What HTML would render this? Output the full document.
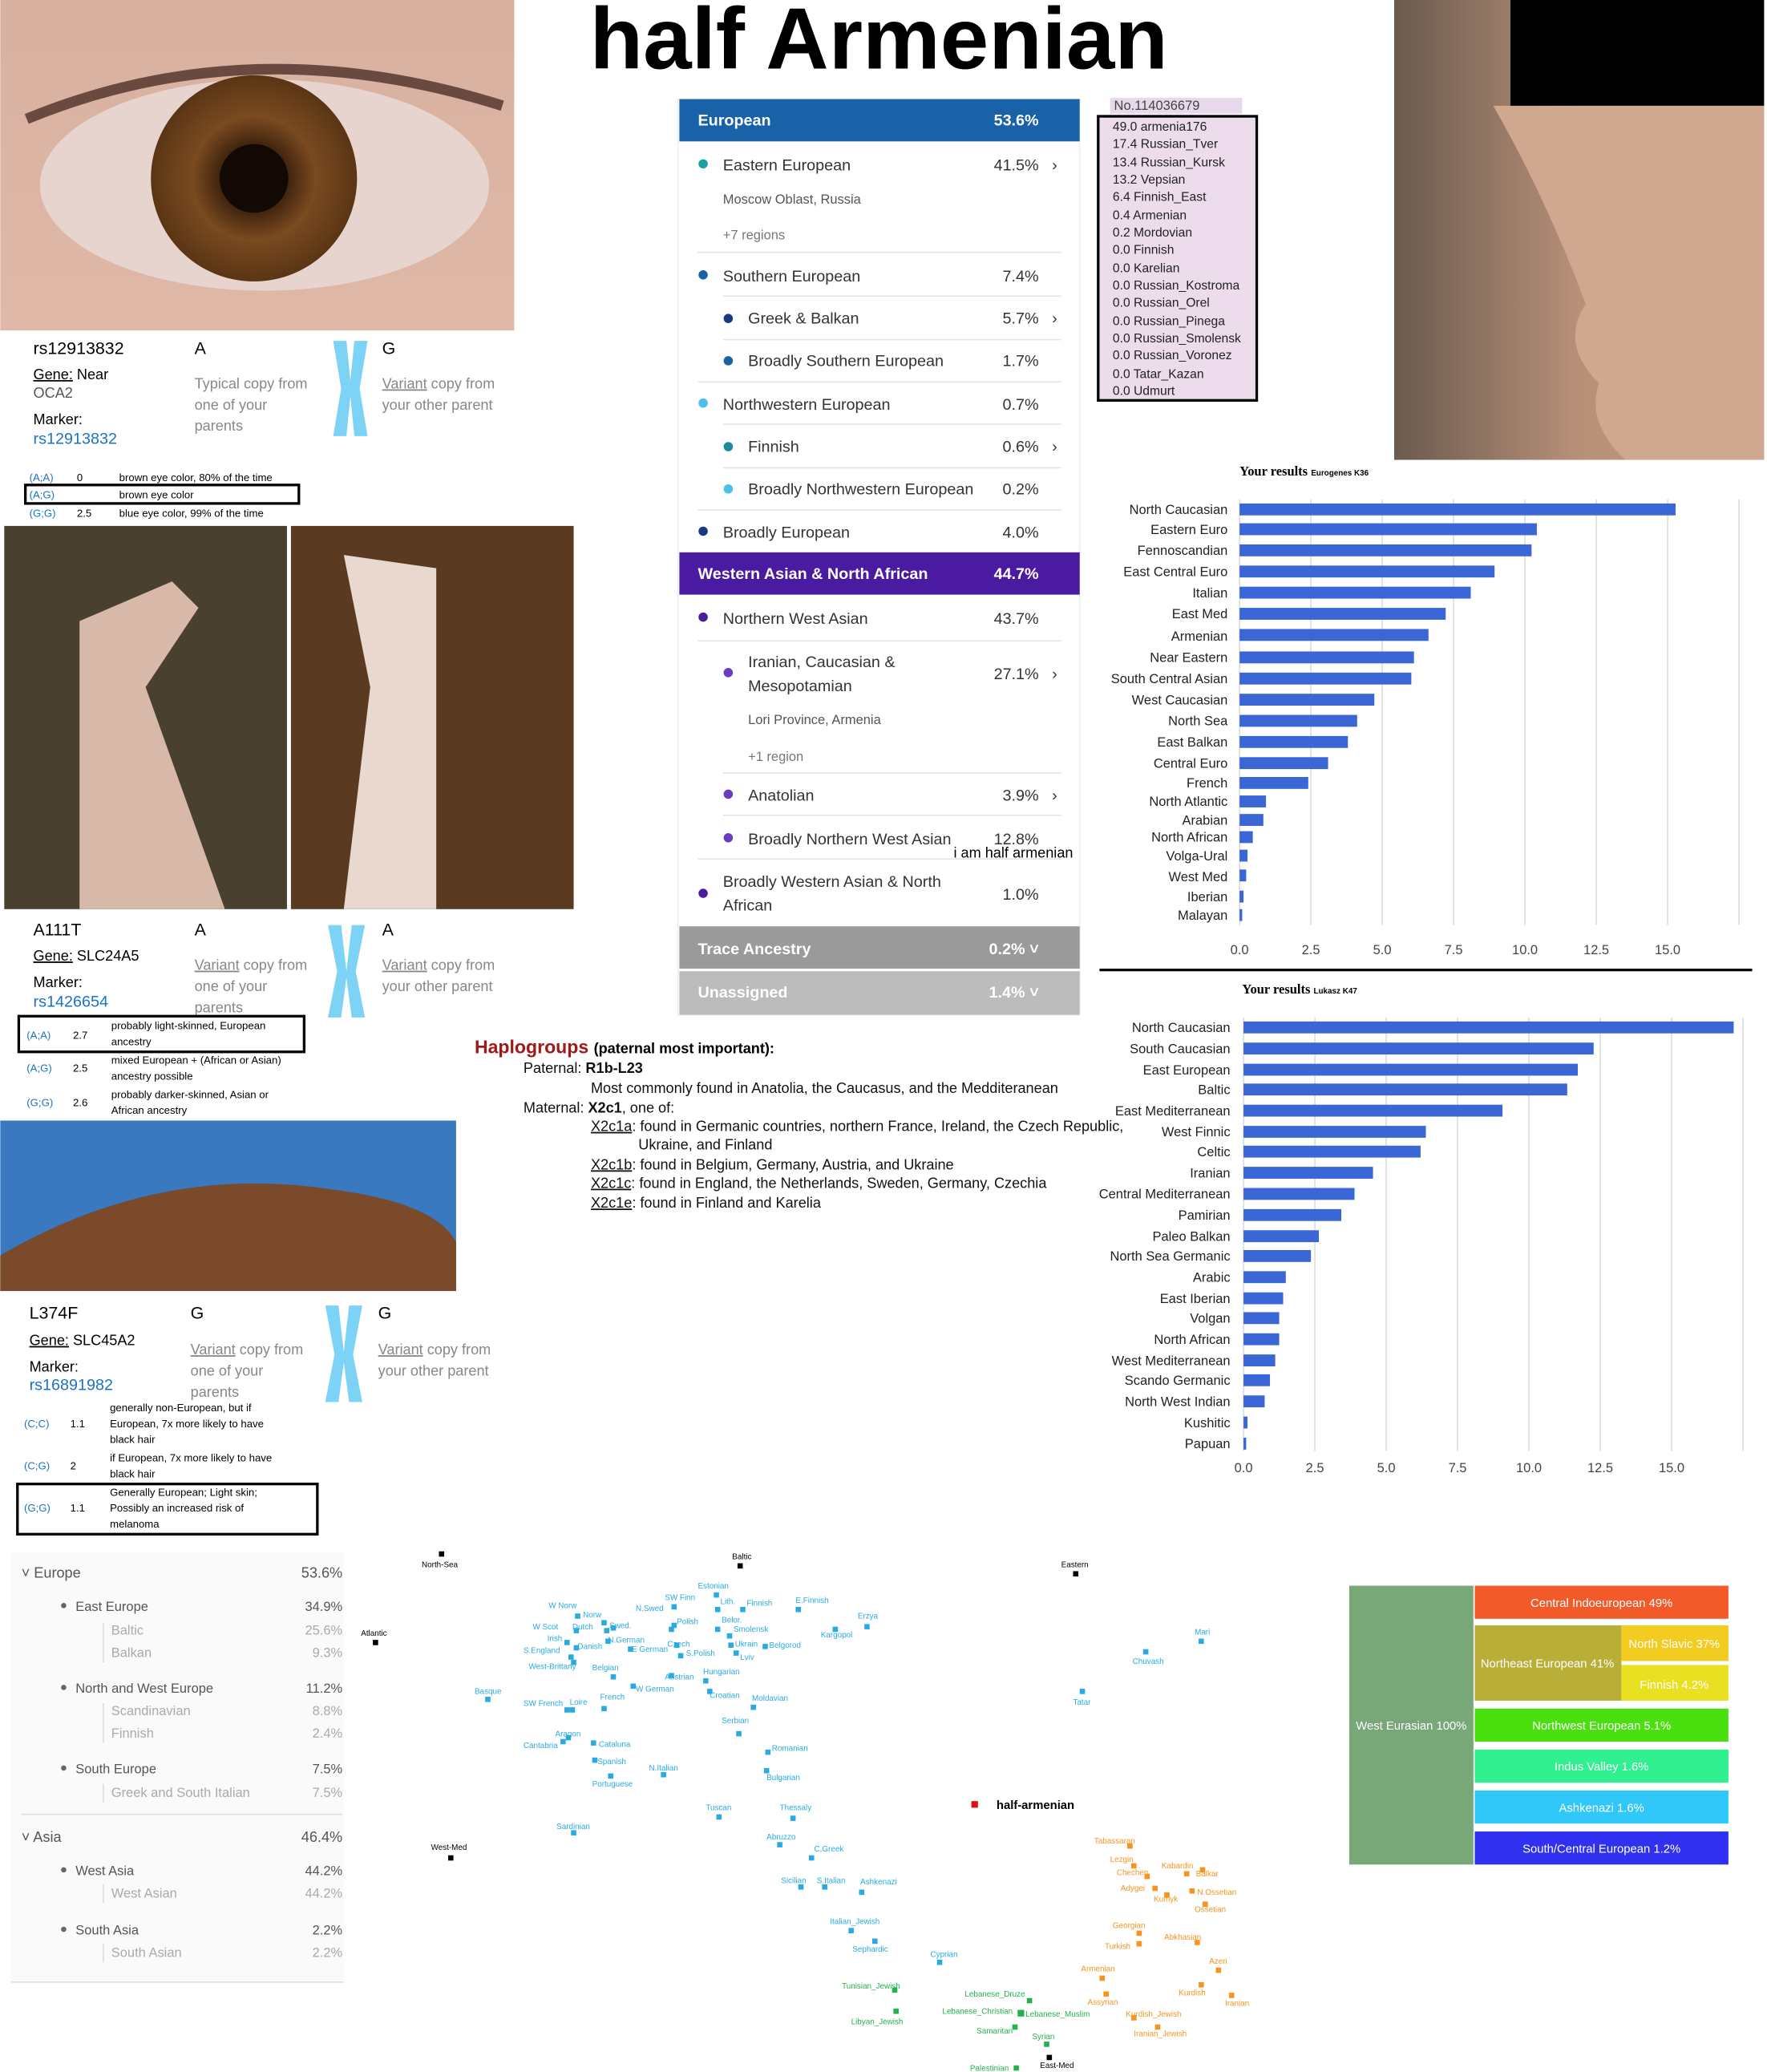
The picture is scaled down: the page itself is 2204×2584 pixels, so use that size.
<!DOCTYPE html>
<html><head><meta charset="utf-8"><style>
html,body{margin:0;padding:0;background:#fff}
svg{display:block}
text{font-family:"Liberation Sans",sans-serif}
.s{font-family:"Liberation Serif",serif}
</style></head><body>
<svg width="2204" height="2584" viewBox="0 0 1337 1568" xmlns="http://www.w3.org/2000/svg">
<rect width="1337" height="1568" fill="#fff"/>
<defs>
<radialGradient id="iris" cx="50%" cy="50%" r="50%"><stop offset="0" stop-color="#2a1608"/><stop offset="0.3" stop-color="#3a200c"/><stop offset="0.6" stop-color="#7a4a20"/><stop offset="1" stop-color="#5a3515"/></radialGradient>
<linearGradient id="skin" x1="0" y1="0" x2="0" y2="1"><stop offset="0" stop-color="#d8b0a0"/><stop offset="1" stop-color="#e0b8a8"/></linearGradient>
<linearGradient id="nose" x1="0" y1="0" x2="1" y2="0"><stop offset="0" stop-color="#6a5a4e"/><stop offset="0.5" stop-color="#b89078"/><stop offset="1" stop-color="#c8a088"/></linearGradient>
</defs>
<rect x="0" y="0" width="389" height="250" fill="url(#skin)"/>
<ellipse cx="200" cy="140" rx="170" ry="80" fill="#e8d4ce"/>
<circle cx="192" cy="135" r="78" fill="url(#iris)"/>
<circle cx="192" cy="135" r="26" fill="#120804"/>
<path d="M20 90 Q190 20 380 80" stroke="#6a4a40" stroke-width="8" fill="none"/>
<text x="25" y="268" font-size="13">rs12913832</text>
<text x="147" y="268" font-size="13">A</text>
<text x="289" y="268" font-size="13">G</text>
<text x="25" y="287" font-size="11"><tspan text-decoration="underline">Gene:</tspan> Near</text>
<text x="25" y="301" font-size="11" fill="#555">OCA2</text>
<text x="25" y="321" font-size="11">Marker:</text>
<text x="25" y="336" font-size="12" fill="#1a73c8">rs12913832</text>
<text x="147" y="294" font-size="11" fill="#888">Typical copy from</text>
<text x="147" y="310" font-size="11" fill="#888">one of your</text>
<text x="147" y="326" font-size="11" fill="#888">parents</text>
<text x="289" y="294" font-size="11" fill="#888"><tspan text-decoration="underline">Variant</tspan> copy from</text>
<text x="289" y="310" font-size="11" fill="#888">your other parent</text>
<path d="M252 258 h10 l3 30 l3 -30 h10 l-6 36 l6 36 h-10 l-3 -30 l-3 30 h-10 l6 -36z" fill="#7dd3f5"/>
<g font-size="8">
<text x="22" y="364" fill="#1a73c8">(A;A)</text><text x="58" y="364">0</text><text x="90" y="364">brown eye color, 80% of the time</text>
<rect x="19" y="367" width="207" height="14" fill="none" stroke="#000" stroke-width="2"/>
<text x="22" y="377" fill="#1a73c8">(A;G)</text><text x="90" y="377">brown eye color</text>
<text x="22" y="391" fill="#1a73c8">(G;G)</text><text x="58" y="391">2.5</text><text x="90" y="391">blue eye color, 99% of the time</text>
</g>
<rect x="3" y="398" width="214" height="290" fill="#4a4030"/>
<path d="M60 470 L130 440 L150 460 L110 520 L170 688 L60 688 Z" fill="#d8b8a8"/>
<rect x="220" y="398" width="214" height="290" fill="#5a3a20"/>
<path d="M260 420 L330 430 L330 520 L330 688 L260 688 L280 520 Z" fill="#e8d8d0"/>
<text x="25" y="708" font-size="13">A111T</text>
<text x="147" y="708" font-size="13">A</text>
<text x="289" y="708" font-size="13">A</text>
<text x="25" y="727" font-size="11"><tspan text-decoration="underline">Gene:</tspan> SLC24A5</text>
<text x="25" y="747" font-size="11">Marker:</text>
<text x="25" y="762" font-size="12" fill="#1a73c8">rs1426654</text>
<text x="147" y="734" font-size="11" fill="#888"><tspan text-decoration="underline">Variant</tspan> copy from</text>
<text x="147" y="750" font-size="11" fill="#888">one of your</text>
<text x="147" y="766" font-size="11" fill="#888">parents</text>
<text x="289" y="734" font-size="11" fill="#888"><tspan text-decoration="underline">Variant</tspan> copy from</text>
<text x="289" y="750" font-size="11" fill="#888">your other parent</text>
<path d="M248 700 h10 l4 35 l4 -35 h10 l-7 35 l7 35 h-10 l-4 -30 l-4 30 h-10 l7 -35z" fill="#7dd3f5"/>
<g font-size="8">
<rect x="14" y="769" width="216" height="27" fill="none" stroke="#000" stroke-width="2"/>
<text x="20" y="786" fill="#1a73c8">(A;A)</text><text x="55" y="786">2.7</text><text x="84" y="779">probably light-skinned, European</text><text x="84" y="791">ancestry</text>
<text x="20" y="811" fill="#1a73c8">(A;G)</text><text x="55" y="811">2.5</text><text x="84" y="805">mixed European + (African or Asian)</text><text x="84" y="817">ancestry possible</text>
<text x="20" y="837" fill="#1a73c8">(G;G)</text><text x="55" y="837">2.6</text><text x="84" y="831">probably darker-skinned, Asian or</text><text x="84" y="843">African ancestry</text>
</g>
<rect x="0" y="848" width="345" height="129" fill="#3a78c0"/>
<path d="M0 950 Q120 880 250 900 Q330 910 345 940 L345 977 L0 977 Z" fill="#7a4a2a"/>
<text x="22" y="998" font-size="13">L374F</text>
<text x="144" y="998" font-size="13">G</text>
<text x="286" y="998" font-size="13">G</text>
<text x="22" y="1018" font-size="11"><tspan text-decoration="underline">Gene:</tspan> SLC45A2</text>
<text x="22" y="1038" font-size="11">Marker:</text>
<text x="22" y="1052" font-size="12" fill="#1a73c8">rs16891982</text>
<text x="144" y="1025" font-size="11" fill="#888"><tspan text-decoration="underline">Variant</tspan> copy from</text>
<text x="144" y="1041" font-size="11" fill="#888">one of your</text>
<text x="144" y="1057" font-size="11" fill="#888">parents</text>
<text x="286" y="1025" font-size="11" fill="#888"><tspan text-decoration="underline">Variant</tspan> copy from</text>
<text x="286" y="1041" font-size="11" fill="#888">your other parent</text>
<path d="M246 988 h10 l4 35 l4 -35 h10 l-7 37 l7 36 h-10 l-4 -30 l-4 30 h-10 l7 -36z" fill="#7dd3f5"/>
<g font-size="8">
<text x="18" y="1080" fill="#1a73c8">(C;C)</text><text x="53" y="1080">1.1</text><text x="83" y="1068">generally non-European, but if</text><text x="83" y="1080">European, 7x more likely to have</text><text x="83" y="1092">black hair</text>
<text x="18" y="1112" fill="#1a73c8">(C;G)</text><text x="53" y="1112">2</text><text x="83" y="1106">if European, 7x more likely to have</text><text x="83" y="1118">black hair</text>
<rect x="13" y="1123" width="227" height="38" fill="none" stroke="#000" stroke-width="2"/>
<text x="18" y="1144" fill="#1a73c8">(G;G)</text><text x="53" y="1144">1.1</text><text x="83" y="1132">Generally European; Light skin;</text><text x="83" y="1144">Possibly an increased risk of</text><text x="83" y="1156">melanoma</text>
</g>
<text x="665" y="52" font-size="66" font-weight="bold" text-anchor="middle">half Armenian</text>
<rect x="513" y="75" width="304" height="693" fill="#fff" stroke="#eee"/>
<rect x="514" y="75" width="303" height="32" fill="#1a62a8"/>
<text x="528" y="95" font-size="12" font-weight="bold" fill="#fff">European</text>
<text x="786" y="95" font-size="12" font-weight="bold" fill="#fff" text-anchor="end">53.6%</text>
<g font-size="12" fill="#333">
<circle cx="532" cy="124" r="3.5" fill="#1aa0a0"/><text x="547" y="129">Eastern European</text><text x="786" y="129" text-anchor="end">41.5%</text><text x="796" y="129">›</text>
<text x="547" y="154" font-size="10" fill="#555">Moscow Oblast, Russia</text>
<text x="547" y="181" font-size="10" fill="#777">+7 regions</text>
<circle cx="532" cy="208" r="3.5" fill="#1a62a8"/><text x="547" y="213">Southern European</text><text x="786" y="213" text-anchor="end">7.4%</text>
<circle cx="551" cy="241" r="3.5" fill="#1a3a80"/><text x="566" y="245">Greek &amp; Balkan</text><text x="786" y="245" text-anchor="end">5.7%</text><text x="796" y="245">›</text>
<circle cx="551" cy="273" r="3.5" fill="#1a62a8"/><text x="566" y="277">Broadly Southern European</text><text x="786" y="277" text-anchor="end">1.7%</text>
<circle cx="532" cy="305" r="3.5" fill="#4ac0e8"/><text x="547" y="310">Northwestern European</text><text x="786" y="310" text-anchor="end">0.7%</text>
<circle cx="551" cy="338" r="3.5" fill="#1a8a9a"/><text x="566" y="342">Finnish</text><text x="786" y="342" text-anchor="end">0.6%</text><text x="796" y="342">›</text>
<circle cx="551" cy="370" r="3.5" fill="#4ac0e8"/><text x="566" y="374">Broadly Northwestern European</text><text x="786" y="374" text-anchor="end">0.2%</text>
<circle cx="532" cy="402" r="3.5" fill="#1a3a80"/><text x="547" y="407">Broadly European</text><text x="786" y="407" text-anchor="end">4.0%</text>
</g>
<g stroke="#e4e4e4"><line x1="528" y1="191" x2="803" y2="191"/><line x1="547" y1="224" x2="803" y2="224"/><line x1="547" y1="257" x2="803" y2="257"/><line x1="528" y1="289" x2="803" y2="289"/><line x1="547" y1="321" x2="803" y2="321"/><line x1="547" y1="354" x2="803" y2="354"/><line x1="528" y1="386" x2="803" y2="386"/><line x1="528" y1="485" x2="803" y2="485"/><line x1="547" y1="585" x2="803" y2="585"/><line x1="547" y1="617" x2="803" y2="617"/><line x1="528" y1="650" x2="803" y2="650"/></g>
<rect x="514" y="418" width="303" height="32" fill="#4a1aa0"/>
<text x="528" y="438" font-size="12" font-weight="bold" fill="#fff">Western Asian &amp; North African</text>
<text x="786" y="438" font-size="12" font-weight="bold" fill="#fff" text-anchor="end">44.7%</text>
<g font-size="12" fill="#333">
<circle cx="532" cy="467" r="3.5" fill="#4a1aa0"/><text x="547" y="472">Northern West Asian</text><text x="786" y="472" text-anchor="end">43.7%</text>
<circle cx="551" cy="509" r="3.5" fill="#6a3ac0"/><text x="566" y="505">Iranian, Caucasian &amp;</text><text x="566" y="523">Mesopotamian</text><text x="786" y="514" text-anchor="end">27.1%</text><text x="796" y="514">›</text>
<text x="566" y="548" font-size="10" fill="#555">Lori Province, Armenia</text>
<text x="566" y="576" font-size="10" fill="#777">+1 region</text>
<circle cx="551" cy="601" r="3.5" fill="#6a3ac0"/><text x="566" y="606">Anatolian</text><text x="786" y="606" text-anchor="end">3.9%</text><text x="796" y="606">›</text>
<circle cx="551" cy="634" r="3.5" fill="#6a3ac0"/><text x="566" y="639">Broadly Northern West Asian</text><text x="786" y="639" text-anchor="end">12.8%</text>
<text x="812" y="649" font-size="11" fill="#000" text-anchor="end">i am half armenian</text>
<circle cx="532" cy="676" r="3.5" fill="#4a1aa0"/><text x="547" y="671">Broadly Western Asian &amp; North</text><text x="547" y="689">African</text><text x="786" y="681" text-anchor="end">1.0%</text>
</g>
<rect x="514" y="701" width="303" height="32" fill="#9a9a9a"/>
<text x="528" y="722" font-size="12" font-weight="bold" fill="#fff">Trace Ancestry</text><text x="786" y="722" font-size="12" font-weight="bold" fill="#fff" text-anchor="end">0.2% ˅</text>
<rect x="514" y="735" width="303" height="33" fill="#bcbcbc"/>
<text x="528" y="755" font-size="12" font-weight="bold" fill="#fff">Unassigned</text><text x="786" y="755" font-size="12" font-weight="bold" fill="#fff" text-anchor="end">1.4% ˅</text>
<rect x="840" y="74" width="100" height="12" fill="#e8d8ec"/>
<text x="843" y="83" font-size="10" fill="#444">No.114036679</text>
<rect x="831" y="88" width="120" height="215" fill="#ecdcec" stroke="#000" stroke-width="2"/>
<g font-size="9.5" fill="#222">
<text x="842" y="99">49.0 armenia176</text><text x="842" y="112">17.4 Russian_Tver</text><text x="842" y="126">13.4 Russian_Kursk</text><text x="842" y="139">13.2 Vepsian</text><text x="842" y="152">6.4 Finnish_East</text><text x="842" y="166">0.4 Armenian</text><text x="842" y="179">0.2 Mordovian</text><text x="842" y="192">0.0 Finnish</text><text x="842" y="206">0.0 Karelian</text><text x="842" y="219">0.0 Russian_Kostroma</text><text x="842" y="232">0.0 Russian_Orel</text><text x="842" y="246">0.0 Russian_Pinega</text><text x="842" y="259">0.0 Russian_Smolensk</text><text x="842" y="272">0.0 Russian_Voronez</text><text x="842" y="286">0.0 Tatar_Kazan</text><text x="842" y="299">0.0 Udmurt</text>
</g>
<rect x="1055" y="0" width="280" height="348" fill="url(#nose)"/>
<path d="M1130 80 Q1170 150 1200 230 Q1180 260 1210 290 Q1200 320 1230 348 L1335 348 L1335 80Z" fill="#d0a890"/>
<rect x="1143" y="0" width="192" height="80" fill="#000"/>
<text x="938" y="360" font-size="10" font-weight="bold" class="s">Your results <tspan font-size="6" font-family="Liberation Sans">Eurogenes K36</tspan></text>
<g stroke="#ddd" stroke-width="1"><line x1="938" y1="378" x2="938" y2="700"/><line x1="992" y1="378" x2="992" y2="700"/><line x1="1046" y1="378" x2="1046" y2="700"/><line x1="1100" y1="378" x2="1100" y2="700"/><line x1="1154" y1="378" x2="1154" y2="700"/><line x1="1208" y1="378" x2="1208" y2="700"/><line x1="1262" y1="378" x2="1262" y2="700"/><line x1="1316" y1="378" x2="1316" y2="700"/></g>
<g fill="#3a66d6">
<rect x="938" y="381" width="330" height="9"/><rect x="938" y="396" width="225" height="9"/><rect x="938" y="412" width="221" height="9"/><rect x="938" y="428" width="193" height="9"/><rect x="938" y="444" width="175" height="9"/><rect x="938" y="460" width="156" height="9"/><rect x="938" y="476" width="143" height="9"/><rect x="938" y="493" width="132" height="9"/><rect x="938" y="509" width="130" height="9"/><rect x="938" y="525" width="102" height="9"/><rect x="938" y="541" width="89" height="9"/><rect x="938" y="557" width="82" height="9"/><rect x="938" y="573" width="67" height="9"/><rect x="938" y="588" width="52" height="9"/><rect x="938" y="602" width="20" height="9"/><rect x="938" y="616" width="18" height="9"/><rect x="938" y="629" width="10" height="9"/><rect x="938" y="643" width="6" height="9"/><rect x="938" y="658" width="5" height="9"/><rect x="938" y="674" width="3" height="9"/><rect x="938" y="688" width="2" height="9"/>
</g>
<g font-size="10" class="s" text-anchor="end" fill="#222">
<text x="929" y="389">North Caucasian</text><text x="929" y="404">Eastern Euro</text><text x="929" y="420">Fennoscandian</text><text x="929" y="436">East Central Euro</text><text x="929" y="452">Italian</text><text x="929" y="468">East Med</text><text x="929" y="485">Armenian</text><text x="929" y="501">Near Eastern</text><text x="929" y="517">South Central Asian</text><text x="929" y="533">West Caucasian</text><text x="929" y="549">North Sea</text><text x="929" y="565">East Balkan</text><text x="929" y="581">Central Euro</text><text x="929" y="596">French</text><text x="929" y="610">North Atlantic</text><text x="929" y="624">Arabian</text><text x="929" y="637">North African</text><text x="929" y="651">Volga-Ural</text><text x="929" y="667">West Med</text><text x="929" y="682">Iberian</text><text x="929" y="696">Malayan</text>
</g>
<g font-size="10" class="s" text-anchor="middle" fill="#444"><text x="938" y="722">0.0</text><text x="992" y="722">2.5</text><text x="1046" y="722">5.0</text><text x="1100" y="722">7.5</text><text x="1154" y="722">10.0</text><text x="1208" y="722">12.5</text><text x="1262" y="722">15.0</text></g>
<line x1="832" y1="734" x2="1326" y2="734" stroke="#000" stroke-width="2"/>
<text x="940" y="752" font-size="10" font-weight="bold" class="s">Your results <tspan font-size="6" font-family="Liberation Sans">Lukasz K47</tspan></text>
<g stroke="#ddd"><line x1="941" y1="770" x2="941" y2="1098"/><line x1="995" y1="770" x2="995" y2="1098"/><line x1="1049" y1="770" x2="1049" y2="1098"/><line x1="1103" y1="770" x2="1103" y2="1098"/><line x1="1157" y1="770" x2="1157" y2="1098"/><line x1="1211" y1="770" x2="1211" y2="1098"/><line x1="1265" y1="770" x2="1265" y2="1098"/><line x1="1319" y1="770" x2="1319" y2="1098"/></g>
<g fill="#3a66d6">
<rect x="941" y="773" width="371" height="9"/><rect x="941" y="789" width="265" height="9"/><rect x="941" y="805" width="253" height="9"/><rect x="941" y="820" width="245" height="9"/><rect x="941" y="836" width="196" height="9"/><rect x="941" y="852" width="138" height="9"/><rect x="941" y="867" width="134" height="9"/><rect x="941" y="883" width="98" height="9"/><rect x="941" y="899" width="84" height="9"/><rect x="941" y="915" width="74" height="9"/><rect x="941" y="931" width="57" height="9"/><rect x="941" y="946" width="51" height="9"/><rect x="941" y="962" width="32" height="9"/><rect x="941" y="978" width="30" height="9"/><rect x="941" y="993" width="27" height="9"/><rect x="941" y="1009" width="27" height="9"/><rect x="941" y="1025" width="24" height="9"/><rect x="941" y="1040" width="20" height="9"/><rect x="941" y="1056" width="16" height="9"/><rect x="941" y="1072" width="3" height="9"/><rect x="941" y="1088" width="2" height="9"/>
</g>
<g font-size="10" class="s" text-anchor="end" fill="#222">
<text x="931" y="781">North Caucasian</text><text x="931" y="797">South Caucasian</text><text x="931" y="813">East European</text><text x="931" y="828">Baltic</text><text x="931" y="844">East Mediterranean</text><text x="931" y="860">West Finnic</text><text x="931" y="875">Celtic</text><text x="931" y="891">Iranian</text><text x="931" y="907">Central Mediterranean</text><text x="931" y="923">Pamirian</text><text x="931" y="939">Paleo Balkan</text><text x="931" y="954">North Sea Germanic</text><text x="931" y="970">Arabic</text><text x="931" y="986">East Iberian</text><text x="931" y="1001">Volgan</text><text x="931" y="1017">North African</text><text x="931" y="1033">West Mediterranean</text><text x="931" y="1048">Scando Germanic</text><text x="931" y="1064">North West Indian</text><text x="931" y="1080">Kushitic</text><text x="931" y="1096">Papuan</text>
</g>
<g font-size="10" class="s" text-anchor="middle" fill="#444"><text x="941" y="1114">0.0</text><text x="995" y="1114">2.5</text><text x="1049" y="1114">5.0</text><text x="1103" y="1114">7.5</text><text x="1157" y="1114">10.0</text><text x="1211" y="1114">12.5</text><text x="1265" y="1114">15.0</text></g>
<text x="359" y="797" font-size="14" font-weight="bold" fill="#a01818">Haplogroups <tspan font-size="11" fill="#000">(paternal most important):</tspan></text>
<g font-size="11" fill="#111">
<text x="396" y="812">Paternal: <tspan font-weight="bold">R1b-L23</tspan></text>
<text x="447" y="827">Most commonly found in Anatolia, the Caucasus, and the Medditeranean</text>
<text x="396" y="842">Maternal: <tspan font-weight="bold">X2c1</tspan>, one of:</text>
<text x="447" y="856"><tspan text-decoration="underline">X2c1a</tspan>: found in Germanic countries, northern France, Ireland, the Czech Republic,</text>
<text x="483" y="870">Ukraine, and Finland</text>
<text x="447" y="885"><tspan text-decoration="underline">X2c1b</tspan>: found in Belgium, Germany, Austria, and Ukraine</text>
<text x="447" y="899"><tspan text-decoration="underline">X2c1c</tspan>: found in England, the Netherlands, Sweden, Germany, Czechia</text>
<text x="447" y="914"><tspan text-decoration="underline">X2c1e</tspan>: found in Finland and Karelia</text>
</g>
<rect x="8" y="1175" width="252" height="325" fill="#fafafa"/>
<g font-size="11" fill="#555">
<text x="16" y="1194">˅ Europe</text><text x="259" y="1194" text-anchor="end">53.6%</text>
<text x="57" y="1219" font-size="10">East Europe</text><text x="259" y="1219" font-size="10" text-anchor="end">34.9%</text>
<text x="84" y="1237" font-size="10" fill="#aaa">Baltic</text><text x="259" y="1237" font-size="10" fill="#aaa" text-anchor="end">25.6%</text>
<text x="84" y="1254" font-size="10" fill="#aaa">Balkan</text><text x="259" y="1254" font-size="10" fill="#aaa" text-anchor="end">9.3%</text>
<text x="57" y="1281" font-size="10">North and West Europe</text><text x="259" y="1281" font-size="10" text-anchor="end">11.2%</text>
<text x="84" y="1298" font-size="10" fill="#aaa">Scandinavian</text><text x="259" y="1298" font-size="10" fill="#aaa" text-anchor="end">8.8%</text>
<text x="84" y="1315" font-size="10" fill="#aaa">Finnish</text><text x="259" y="1315" font-size="10" fill="#aaa" text-anchor="end">2.4%</text>
<text x="57" y="1342" font-size="10">South Europe</text><text x="259" y="1342" font-size="10" text-anchor="end">7.5%</text>
<text x="84" y="1360" font-size="10" fill="#aaa">Greek and South Italian</text><text x="259" y="1360" font-size="10" fill="#aaa" text-anchor="end">7.5%</text>
<text x="16" y="1394">˅ Asia</text><text x="259" y="1394" text-anchor="end">46.4%</text>
<text x="57" y="1419" font-size="10">West Asia</text><text x="259" y="1419" font-size="10" text-anchor="end">44.2%</text>
<text x="84" y="1436" font-size="10" fill="#aaa">West Asian</text><text x="259" y="1436" font-size="10" fill="#aaa" text-anchor="end">44.2%</text>
<text x="57" y="1464" font-size="10">South Asia</text><text x="259" y="1464" font-size="10" text-anchor="end">2.2%</text>
<text x="84" y="1481" font-size="10" fill="#aaa">South Asian</text><text x="259" y="1481" font-size="10" fill="#aaa" text-anchor="end">2.2%</text>
</g>
<g fill="#666"><circle cx="48" cy="1215" r="2"/><circle cx="48" cy="1277" r="2"/><circle cx="48" cy="1338" r="2"/><circle cx="48" cy="1415" r="2"/><circle cx="48" cy="1460" r="2"/></g>
<g stroke="#ddd"><line x1="78" y1="1228" x2="78" y2="1258"/><line x1="78" y1="1289" x2="78" y2="1319"/><line x1="78" y1="1350" x2="78" y2="1364"/><line x1="78" y1="1426" x2="78" y2="1440"/><line x1="78" y1="1471" x2="78" y2="1485"/><line x1="16" y1="1373" x2="259" y2="1373"/><line x1="8" y1="1500" x2="260" y2="1500"/></g>
<g font-size="6">
<g fill="#000"><rect x="332" y="1174" width="4" height="4"/><text x="319" y="1186">North-Sea</text><rect x="558" y="1183" width="4" height="4"/><text x="554" y="1180">Baltic</text><rect x="812" y="1189" width="4" height="4"/><text x="803" y="1186">Eastern</text><rect x="282" y="1241" width="4" height="4"/><text x="273" y="1238">Atlantic</text><rect x="339" y="1404" width="4" height="4"/><text x="326" y="1400">West-Med</text><rect x="792" y="1555" width="4" height="4"/><text x="787" y="1565">East-Med</text></g>
<g fill="#29abe2">
<rect x="540" y="1205" width="4" height="4"/><text x="528" y="1202">Estonian</text>
<rect x="435" y="1221" width="4" height="4"/><text x="415" y="1217">W Norw</text>
<rect x="455" y="1226" width="4" height="4"/><text x="441" y="1224">Norw</text>
<rect x="508" y="1214" width="4" height="4"/><text x="503" y="1211">SW Finn</text>
<rect x="541" y="1216" width="4" height="4"/><text x="545" y="1214">Lith.</text>
<rect x="560" y="1216" width="4" height="4"/><text x="565" y="1215">Finnish</text>
<rect x="602" y="1216" width="4" height="4"/><text x="602" y="1213">E.Finnish</text>
<rect x="508" y="1228" width="4" height="4"/><text x="481" y="1219">N.Swed</text>
<rect x="541" y="1231" width="4" height="4"/><text x="546" y="1228">Belor.</text>
<rect x="654" y="1229" width="4" height="4"/><text x="649" y="1225">Erzya</text>
<rect x="434" y="1232" width="4" height="4"/><text x="403" y="1233">W Scot</text>
<rect x="457" y="1232" width="4" height="4"/><text x="433" y="1233">Dutch</text>
<rect x="462" y="1230" width="4" height="4"/><text x="461" y="1232">Swed.</text>
<rect x="506" y="1231" width="4" height="4"/><text x="512" y="1229">Polish</text>
<rect x="550" y="1236" width="4" height="4"/><text x="555" y="1235">Smolensk</text>
<rect x="630" y="1231" width="4" height="4"/><text x="621" y="1239">Kargopol</text>
<rect x="427" y="1241" width="4" height="4"/><text x="414" y="1242">Irish</text>
<rect x="434" y="1245" width="4" height="4"/><text x="396" y="1251">S.England</text>
<rect x="458" y="1240" width="4" height="4"/><text x="460" y="1243">N.German</text>
<rect x="510" y="1243" width="4" height="4"/><text x="505" y="1246">Czech</text>
<rect x="551" y="1243" width="4" height="4"/><text x="556" y="1246">Ukrain</text>
<rect x="577" y="1244" width="4" height="4"/><text x="582" y="1247">Belgorod</text>
<rect x="430" y="1252" width="4" height="4"/><text x="437" y="1248">Danish</text>
<rect x="475" y="1246" width="4" height="4"/><text x="478" y="1250">E German</text>
<rect x="513" y="1251" width="4" height="4"/><text x="519" y="1253">S.Polish</text>
<rect x="555" y="1249" width="4" height="4"/><text x="560" y="1256">Lviv</text>
<rect x="432" y="1256" width="4" height="4"/><text x="400" y="1263">West-Brittany</text>
<rect x="462" y="1267" width="4" height="4"/><text x="448" y="1264">Belgian</text>
<rect x="477" y="1274" width="4" height="4"/><text x="481" y="1280">W German</text>
<rect x="506" y="1266" width="4" height="4"/><text x="503" y="1271">Austrian</text>
<rect x="532" y="1270" width="4" height="4"/><text x="532" y="1267">Hungarian</text>
<rect x="535" y="1278" width="4" height="4"/><text x="537" y="1285">Croatian</text>
<rect x="568" y="1290" width="4" height="4"/><text x="569" y="1287">Moldavian</text>
<rect x="367" y="1284" width="4" height="4"/><text x="359" y="1282">Basque</text>
<rect x="427" y="1292" width="4" height="4"/><text x="396" y="1291">SW French</text>
<rect x="431" y="1292" width="4" height="4"/><text x="431" y="1290">Loire</text>
<rect x="455" y="1291" width="4" height="4"/><text x="454" y="1286">French</text>
<rect x="557" y="1310" width="4" height="4"/><text x="546" y="1304">Serbian</text>
<rect x="428" y="1313" width="4" height="4"/><text x="420" y="1314">Aragon</text>
<rect x="424" y="1316" width="4" height="4"/><text x="396" y="1323">Cantabria</text>
<rect x="447" y="1317" width="4" height="4"/><text x="453" y="1322">Cataluna</text>
<rect x="579" y="1324" width="4" height="4"/><text x="584" y="1325">Romanian</text>
<rect x="448" y="1330" width="4" height="4"/><text x="452" y="1335">Spanish</text>
<rect x="500" y="1341" width="4" height="4"/><text x="491" y="1340">N.Italian</text>
<rect x="578" y="1338" width="4" height="4"/><text x="580" y="1347">Bulgarian</text>
<rect x="460" y="1342" width="4" height="4"/><text x="448" y="1352">Portuguese</text>
<rect x="542" y="1373" width="4" height="4"/><text x="534" y="1370">Tuscan</text>
<rect x="598" y="1374" width="4" height="4"/><text x="590" y="1370">Thessaly</text>
<rect x="432" y="1385" width="4" height="4"/><text x="421" y="1384">Sardinian</text>
<rect x="588" y="1394" width="4" height="4"/><text x="580" y="1392">Abruzzo</text>
<rect x="612" y="1404" width="4" height="4"/><text x="616" y="1401">C.Greek</text>
<rect x="604" y="1426" width="4" height="4"/><text x="591" y="1425">Sicilian</text>
<rect x="622" y="1426" width="4" height="4"/><text x="618" y="1425">S.Italian</text>
<rect x="650" y="1430" width="4" height="4"/><text x="651" y="1426">Ashkenazi</text>
<rect x="642" y="1459" width="4" height="4"/><text x="628" y="1456">Italian_Jewish</text>
<rect x="660" y="1467" width="4" height="4"/><text x="645" y="1477">Sephardic</text>
<rect x="709" y="1483" width="4" height="4"/><text x="704" y="1481">Cyprian</text>
<rect x="907" y="1240" width="4" height="4"/><text x="904" y="1237">Mari</text>
<rect x="865" y="1248" width="4" height="4"/><text x="857" y="1259">Chuvash</text>
<rect x="817" y="1278" width="4" height="4"/><text x="812" y="1290">Tatar</text>
</g>
<g fill="#f7931e">
<rect x="853" y="1395" width="4" height="4"/><text x="828" y="1395">Tabassaran</text>
<rect x="856" y="1410" width="4" height="4"/><text x="840" y="1409">Lezgin</text>
<rect x="866" y="1418" width="4" height="4"/><text x="845" y="1419">Chechen</text>
<rect x="896" y="1416" width="4" height="4"/><text x="879" y="1414">Kabardin</text>
<rect x="908" y="1413" width="4" height="4"/><text x="905" y="1420">Balkar</text>
<rect x="872" y="1427" width="4" height="4"/><text x="848" y="1431">Adygei</text>
<rect x="881" y="1432" width="4" height="4"/><text x="873" y="1439">Kumyk</text>
<rect x="900" y="1429" width="4" height="4"/><text x="906" y="1434">N.Ossetian</text>
<rect x="910" y="1439" width="4" height="4"/><text x="904" y="1447">Ossetian</text>
<rect x="860" y="1461" width="4" height="4"/><text x="842" y="1459">Georgian</text>
<rect x="860" y="1469" width="4" height="4"/><text x="836" y="1475">Turkish</text>
<rect x="904" y="1468" width="4" height="4"/><text x="881" y="1468">Abkhasian</text>
<rect x="920" y="1489" width="4" height="4"/><text x="915" y="1486">Azeri</text>
<rect x="832" y="1495" width="4" height="4"/><text x="818" y="1492">Armenian</text>
<rect x="907" y="1500" width="4" height="4"/><text x="892" y="1510">Kurdish</text>
<rect x="835" y="1507" width="4" height="4"/><text x="823" y="1517">Assyrian</text>
<rect x="930" y="1508" width="4" height="4"/><text x="927" y="1518">Iranian</text>
<rect x="856" y="1525" width="4" height="4"/><text x="852" y="1526">Kurdish_Jewish</text>
<rect x="874" y="1532" width="4" height="4"/><text x="858" y="1541">Iranian_Jewish</text>
</g>
<g fill="#22b14c">
<rect x="675" y="1504" width="4" height="4"/><text x="637" y="1505">Tunisian_Jewish</text>
<rect x="676" y="1520" width="4" height="4"/><text x="644" y="1532">Libyan_Jewish</text>
<rect x="777" y="1512" width="4" height="4"/><text x="730" y="1511">Lebanese_Druze</text>
<rect x="770" y="1521" width="5" height="5"/><text x="713" y="1524">Lebanese_Christian</text><text x="776" y="1526">Lebanese_Muslim</text>
<rect x="766" y="1532" width="4" height="4"/><text x="739" y="1539">Samaritan</text>
<rect x="790" y="1545" width="4" height="4"/><text x="781" y="1543">Syrian</text>
<rect x="767" y="1563" width="4" height="4"/><text x="734" y="1567">Palestinian</text>
</g>
<rect x="735" y="1363" width="5" height="5" fill="#e01010"/>
<text x="754" y="1369" font-size="9" font-weight="bold">half-armenian</text>
</g>
<rect x="1021" y="1200" width="94" height="211" fill="#78a878"/>
<text x="1068" y="1309" font-size="9" fill="#fff" text-anchor="middle">West Eurasian 100%</text>
<g font-size="9" fill="#fff" text-anchor="middle">
<rect x="1116" y="1200" width="192" height="25" fill="#f25a2a"/><text x="1212" y="1216">Central Indoeuropean 49%</text>
<rect x="1116" y="1230" width="111" height="57" fill="#b8ae38"/><text x="1171" y="1262">Northeast European 41%</text>
<rect x="1227" y="1230" width="81" height="27" fill="#f2cc20"/><text x="1267" y="1247">North Slavic 37%</text>
<rect x="1227" y="1260" width="81" height="27" fill="#e8e020"/><text x="1267" y="1278">Finnish 4.2%</text>
<rect x="1116" y="1293" width="192" height="25" fill="#4ae010"/><text x="1212" y="1309">Northwest European 5.1%</text>
<rect x="1116" y="1324" width="192" height="25" fill="#30f090"/><text x="1212" y="1340">Indus Valley 1.6%</text>
<rect x="1116" y="1355" width="192" height="25" fill="#30c8f8"/><text x="1212" y="1371">Ashkenazi 1.6%</text>
<rect x="1116" y="1386" width="192" height="25" fill="#3030f0"/><text x="1212" y="1402">South/Central European 1.2%</text>
</g>
</svg>
</body></html>
